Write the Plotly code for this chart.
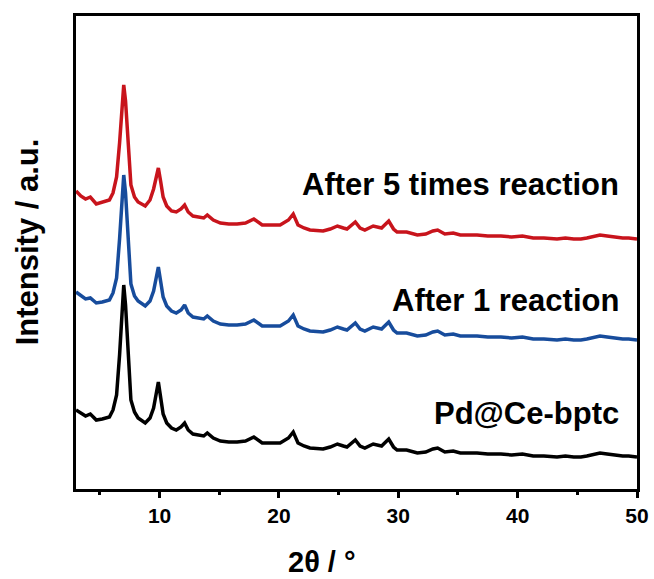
import plotly.graph_objects as go

# 2-theta grid (degrees) shared by the three diffraction patterns
two_theta = [3.0, 3.4, 3.8, 4.2, 4.7, 5.2, 5.8, 6.1, 6.4, 6.65, 6.85, 7.0, 7.15, 7.35,
             7.6, 7.9, 8.2, 8.8, 9.2, 9.5, 9.7, 9.9, 10.1, 10.3, 10.6, 11.0, 11.4, 11.8,
             12.1, 12.4, 12.8, 13.3, 13.7, 14.0, 14.5, 15.1, 15.8, 16.5, 17.2, 17.9, 18.6,
             19.3, 20.1, 20.8, 21.2, 21.6, 22.1, 22.6, 23.2, 23.7, 24.3, 24.9, 25.4, 25.7,
             26.4, 26.8, 27.2, 27.9, 28.6, 29.2, 29.6, 29.9, 30.7, 31.6, 32.3, 32.9, 33.3,
             33.9, 34.6, 35.2, 35.8, 36.6, 37.5, 38.6, 39.5, 40.4, 41.3, 42.2, 43.3, 44.0,
             44.7, 45.3, 45.8, 46.4, 46.9, 47.5, 48.0, 48.8, 49.3, 50.0]

# Intensities (a.u., stacked with vertical offsets)
pd_ce_bptc = [79, 76, 73, 75, 69, 70, 72, 79, 94, 134, 179, 204, 184, 139,
              89, 77, 71, 66, 71, 81, 96, 107, 91, 75, 66, 61, 59, 62,
              66, 59, 55, 54, 53, 56, 51, 48, 47, 47, 48, 52, 46,
              46, 46, 51, 57, 46, 43, 41, 40, 40, 42, 45, 43, 42,
              49, 43, 41, 45, 43, 50, 42, 39, 39, 36, 37, 40, 41,
              37, 38, 36, 36, 36, 35, 35, 34, 35, 33, 33, 32, 33,
              32, 32, 33, 35, 36, 35, 34, 33, 33, 32]

after_1 = [197, 194, 190, 191, 186, 187, 189, 196, 211, 250, 292, 314, 296, 253,
           205, 193, 188, 183, 188, 198, 212, 222, 207, 192, 183, 178, 176, 179,
           184, 176, 172, 171, 170, 173, 168, 165, 164, 164, 165, 169, 163,
           163, 163, 168, 174, 163, 160, 158, 157, 157, 159, 162, 160, 159,
           166, 160, 158, 162, 160, 167, 159, 156, 156, 153, 154, 157, 158,
           154, 155, 153, 153, 153, 152, 152, 151, 152, 150, 150, 149, 150,
           149, 149, 150, 152, 153, 152, 151, 150, 150, 149]

after_5 = [298, 293, 290, 292, 285, 287, 289, 296, 312, 346, 386, 404, 388, 345,
           304, 292, 287, 283, 289, 300, 312, 321, 307, 292, 283, 278, 277, 280,
           284, 277, 273, 272, 271, 274, 269, 266, 265, 265, 266, 270, 264,
           264, 264, 269, 275, 264, 261, 259, 258, 258, 260, 263, 261, 260,
           267, 261, 259, 263, 261, 268, 260, 257, 257, 254, 255, 258, 259,
           255, 256, 254, 254, 254, 253, 253, 252, 253, 251, 251, 250, 251,
           250, 250, 251, 253, 254, 253, 252, 251, 251, 250]

series_names = ["Pd@Ce-bptc", "After 1 reaction", "After 5 times reaction"]
series_values = [pd_ce_bptc, after_1, after_5]
series_colors = ["#000000", "#174c9c", "#c8141c"]
label_y = [76, 189, 305]

x_ticks = [10, 20, 30, 40, 50]

FONT = "Arial, 'Liberation Sans', sans-serif"

fig = go.Figure()
for name, vals, color in zip(series_names, series_values, series_colors):
    fig.add_trace(go.Scatter(x=two_theta, y=vals, mode="lines", name=name,
                             line=dict(color=color, width=3.5)))

for name, ly in zip(series_names, label_y):
    fig.add_annotation(x=48.7, y=ly, text=name, showarrow=False,
                       xanchor="right", yanchor="middle",
                       font=dict(family=FONT, size=31, color="#000000", weight="bold"))

# axis titles
fig.add_annotation(xref="paper", yref="paper", x=0.4385, y=-0.154, text="2θ / °",
                   showarrow=False, xanchor="center", yanchor="middle",
                   font=dict(family=FONT, size=29, color="#000000", weight="bold"))
fig.add_annotation(xref="paper", yref="paper", x=-0.087, y=0.522, text="Intensity / a.u.",
                   showarrow=False, textangle=-90, xanchor="center", yanchor="middle",
                   font=dict(family=FONT, size=31, color="#000000", weight="bold"))

fig.update_layout(
    width=654, height=579,
    margin=dict(l=76, r=17, t=16, b=90, autoexpand=False),
    plot_bgcolor="white", paper_bgcolor="white",
    showlegend=False,
    xaxis=dict(range=[3, 50], tickvals=x_ticks, ticks="outside", ticklen=6,
               tickwidth=3, tickcolor="#000000", showline=True, linewidth=3,
               linecolor="#000000", mirror=True, showgrid=False, zeroline=False,
               automargin=False,
               tickfont=dict(family=FONT, size=21, color="#000000", weight="bold"),
               minor=dict(tickvals=[5, 15, 25, 35, 45], ticks="outside", ticklen=3,
                          tickwidth=3, tickcolor="#000000", showgrid=False)),
    yaxis=dict(range=[0, 473], showticklabels=False, ticks="", showline=True,
               linewidth=3, linecolor="#000000", mirror=True, showgrid=False,
               zeroline=False, automargin=False),
)

fig.write_html("out.html")
